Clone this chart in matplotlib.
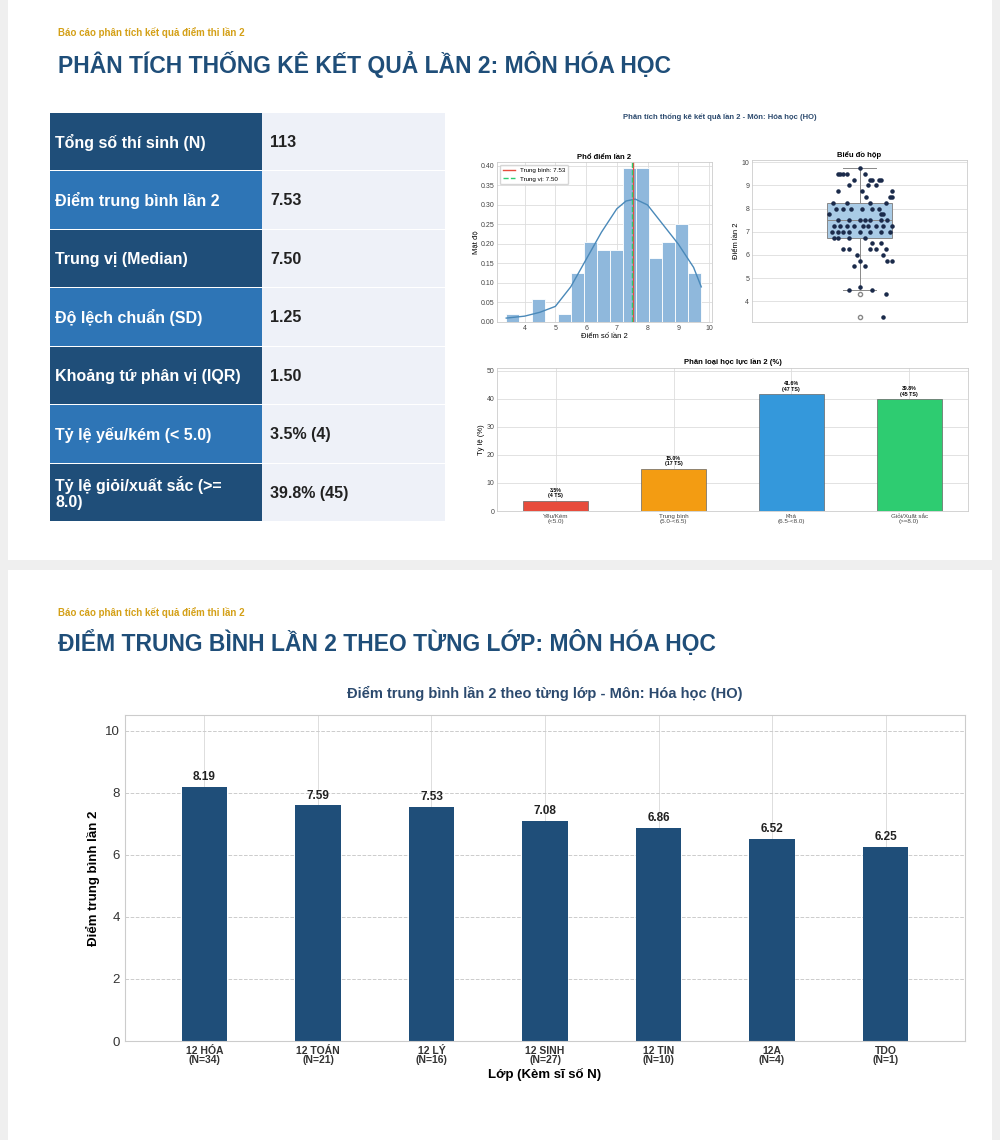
import matplotlib
matplotlib.use('Agg')
import matplotlib.pyplot as plt
from matplotlib.patches import Rectangle
import numpy as np

W, H = 1000, 1140

# ---- dữ liệu ----
bang_nhan = ['Tổng số thí sinh (N)', 'Điểm trung bình lần 2', 'Trung vị (Median)',
             'Độ lệch chuẩn (SD)', 'Khoảng tứ phân vị (IQR)', 'Tỷ lệ yếu/kém (< 5.0)',
             'Tỷ lệ giỏi/xuất sắc (>=\n8.0)']
bang_gia_tri = ['113', '7.53', '7.50', '1.25', '1.50', '3.5% (4)', '39.8% (45)']

hist_bat_dau = 3.4
hist_ket_thuc = 9.75
hist_mat_do = [0.02, 0.0, 0.06, 0.0, 0.02, 0.125, 0.205, 0.185, 0.185, 0.395, 0.395,
               0.165, 0.205, 0.25, 0.125]
kde_x = [3.4, 4.0, 4.5, 5.0, 5.5, 6.0, 6.5, 7.0, 7.3, 7.6, 8.0, 8.5, 9.0, 9.5, 9.75]
kde_y = [0.01, 0.015, 0.025, 0.04, 0.09, 0.16, 0.23, 0.29, 0.31, 0.315, 0.30, 0.25, 0.20, 0.14, 0.09]
trung_binh = 7.53
trung_vi = 7.50

hop_q1, hop_med, hop_q3 = 6.75, 7.5, 8.25
hop_min, hop_max = 4.5, 9.75
hop_ngoai = [4.33, 3.33]
diem_x = [-0.18, -0.15, -0.12, -0.2, -0.05, 0.0, 0.05, 0.2, 0.1, 0.12, 0.15, -0.1, 0.08,
          0.3, 0.28, 0.25, 0.3, -0.25, -0.22, -0.15, -0.08, 0.02, 0.12, 0.18, 0.22, -0.28,
          -0.2, -0.1, 0.0, 0.05, 0.1, 0.2, 0.26, -0.24, -0.18, -0.12, -0.05, 0.03, 0.08,
          0.15, 0.22, 0.3, -0.26, -0.2, -0.15, -0.1, 0.0, 0.1, 0.2, 0.28, -0.2, -0.1,
          0.05, 0.12, 0.2, 0.25, -0.02, 0.0, 0.1, 0.22, 0.26, 0.3, -0.1, 0.05, -0.05,
          -0.15, 0.15, -0.2, 0.02, 0.1, 0.2, -0.24, -0.12, 0.06, 0.18]
diem_y = [9.5, 9.5, 9.5, 9.5, 9.25, 9.75, 9.5, 9.25, 9.25, 9.25, 9.0, 9.0, 9.0,
          8.75, 8.5, 8.25, 8.5, 8.25, 8.0, 8.0, 8.0, 8.0, 8.0, 8.0, 7.75, 7.75,
          7.5, 7.5, 7.5, 7.5, 7.5, 7.5, 7.5, 7.25, 7.25, 7.25, 7.25, 7.25, 7.25,
          7.25, 7.25, 7.25, 7.0, 7.0, 7.0, 7.0, 7.0, 7.0, 7.0, 7.0, 6.75, 6.75,
          6.75, 6.5, 6.5, 6.25, 6.0, 5.75, 6.25, 6.0, 5.75, 5.75, 6.25, 5.5, 5.5,
          6.25, 6.25, 8.75, 8.75, 8.25, 7.75, 6.75, 8.25, 8.5, 9.25]
diem_ngoai_x = [-0.1, 0.0, 0.12, 0.25, 0.22]
diem_ngoai_y = [4.5, 4.6, 4.5, 4.33, 3.33]

hl_nhan = ['Yếu/Kém\n(<5.0)', 'Trung bình\n(5.0-<6.5)', 'Khá\n(6.5-<8.0)', 'Giỏi/Xuất sắc\n(>=8.0)']
hl_ty_le = [3.5, 15.0, 41.6, 39.8]
hl_so_ts = [4, 17, 47, 45]
hl_mau = ['#e74c3c', '#f39c12', '#3498db', '#2ecc71']

lop = ['12 HÓA', '12 TOÁN', '12 LÝ', '12 SINH', '12 TIN', '12A', 'TDO']
si_so = [34, 21, 16, 27, 10, 4, 1]
diem_lop = [8.19, 7.59, 7.53, 7.08, 6.86, 6.52, 6.25]

NAVY = '#1f4e79'
XANH = '#2e75b6'
TIEU_DE = '#1f4e79'
VANG = '#d4a017'

plt.rcParams['font.family'] = ['Liberation Sans', 'DejaVu Sans']


def ax_px(fig, x0, y0, x1, y1):
    return fig.add_axes([x0 / W, 1 - y1 / H, (x1 - x0) / W, (y1 - y0) / H])


def luoi(ax):
    ax.set_facecolor('white')
    ax.grid(True, color='#dddddd', linewidth=0.6)
    ax.set_axisbelow(True)
    for s in ax.spines.values():
        s.set_color('#cccccc')
        s.set_linewidth(0.6)
    ax.tick_params(length=0, labelsize=5, colors='#444444', pad=2)


fig = plt.figure(figsize=(W / 100, H / 100), dpi=100, facecolor='#efefef')

# thẻ nền
fig.patches.append(Rectangle((8 / W, 1 - 560 / H), 984 / W, 560 / H, transform=fig.transFigure,
                             facecolor='white', edgecolor='none', zorder=-5))
fig.patches.append(Rectangle((8 / W, 0), 984 / W, 570 / H, transform=fig.transFigure,
                             facecolor='white', edgecolor='none', zorder=-5))

fig.text(58 / W, 1 - 33 / H, 'Báo cáo phân tích kết quả điểm thi lần 2', color=VANG,
         fontsize=7, fontweight='bold', va='center')
fig.text(58 / W, 1 - 65 / H, 'PHÂN TÍCH THỐNG KÊ KẾT QUẢ LẦN 2: MÔN HÓA HỌC', color=TIEU_DE,
         fontsize=16.5, fontweight='bold', va='center')

# bảng
top, rh = 113, 58.5
for i, (n, v) in enumerate(zip(bang_nhan, bang_gia_tri)):
    y0 = top + i * rh
    mau = NAVY if i % 2 == 0 else XANH
    fig.patches.append(Rectangle((50 / W, 1 - (y0 + rh - 1.5) / H), 212 / W, (rh - 1.5) / H,
                                 transform=fig.transFigure, facecolor=mau, edgecolor='none'))
    fig.patches.append(Rectangle((262 / W, 1 - (y0 + rh - 1.5) / H), 183 / W, (rh - 1.5) / H,
                                 transform=fig.transFigure, facecolor='#eef1f8', edgecolor='none'))
    fig.text(55 / W, 1 - (y0 + rh / 2) / H, n, color='white', fontsize=11.5, fontweight='bold',
             va='center', linespacing=1.1)
    fig.text(270 / W, 1 - (y0 + rh / 2) / H, v, color='#222222', fontsize=11.5, fontweight='bold',
             va='center')

fig.text(720 / W, 1 - 117 / H, 'Phân tích thống kê kết quả lần 2 - Môn: Hóa học (HO)',
         color='#2c4a6e', fontsize=5.5, fontweight='bold', ha='center', va='center')

# histogram
ax = ax_px(fig, 497, 162, 712, 322)
luoi(ax)
canh = np.linspace(hist_bat_dau, hist_ket_thuc, len(hist_mat_do) + 1)
ax.bar(canh[:-1], hist_mat_do, width=np.diff(canh), align='edge', color='#8fb8dc',
       edgecolor='white', linewidth=0.6)
ax.plot(kde_x, kde_y, color='#4a89b9', linewidth=1)
ax.axvline(trung_binh, color='#e74c3c', linewidth=1, label=f'Trung bình: {trung_binh:.2f}')
ax.axvline(trung_vi, color='#2ecc71', linewidth=1, linestyle='--', label=f'Trung vị: {trung_vi:.2f}')
ax.set_xlim(3.1, 10.1)
ax.set_ylim(0, 0.41)
ax.set_xticks([4, 5, 6, 7, 8, 9, 10])
ax.set_yticks(np.arange(0, 0.41, 0.05))
ax.set_yticklabels([f'{t:.2f}' for t in np.arange(0, 0.41, 0.05)])
ax.set_title('Phổ điểm lần 2', fontsize=5.5, fontweight='bold', pad=2)
ax.set_xlabel('Điểm số lần 2', fontsize=5.5, labelpad=1)
ax.set_ylabel('Mật độ', fontsize=5.5, labelpad=1)
ax.legend(fontsize=4.5, loc='upper left', frameon=True, handlelength=2)

# box plot
ax = ax_px(fig, 752, 160, 967, 322)
luoi(ax)
ax.grid(axis='x', visible=False)
ax.bxp([{'q1': hop_q1, 'med': hop_med, 'q3': hop_q3, 'whislo': hop_min, 'whishi': hop_max,
         'fliers': hop_ngoai}], positions=[0], widths=0.6, patch_artist=True,
       boxprops=dict(facecolor='#a9cbe6', edgecolor='#888888', linewidth=0.7),
       medianprops=dict(color='#888888', linewidth=0.7),
       whiskerprops=dict(color='#888888', linewidth=0.7),
       capprops=dict(color='#888888', linewidth=0.7),
       flierprops=dict(marker='o', markerfacecolor='white', markeredgecolor='#888888', markersize=3))
ax.scatter(diem_x, diem_y, s=5, color='#1a2a4a', zorder=3)
ax.scatter(diem_ngoai_x, diem_ngoai_y, s=5, color='#1a2a4a', zorder=3)
ax.set_xlim(-1, 1)
ax.set_ylim(3.1, 10.1)
ax.set_xticks([])
ax.set_yticks([4, 5, 6, 7, 8, 9, 10])
ax.set_title('Biểu đồ hộp', fontsize=5.5, fontweight='bold', pad=2)
ax.set_ylabel('Điểm lần 2', fontsize=5.5, labelpad=1)

# học lực
ax = ax_px(fig, 497, 368, 968, 511)
luoi(ax)
xs = np.arange(len(hl_nhan))
ax.bar(xs, hl_ty_le, width=0.55, color=hl_mau, edgecolor='#666666', linewidth=0.5)
for x, p, n in zip(xs, hl_ty_le, hl_so_ts):
    ax.text(x, p + 1, f'{p:.1f}%\n({n} TS)', ha='center', va='bottom', fontsize=3.8,
            fontweight='bold', linespacing=1.1)
ax.set_xticks(xs)
ax.set_xticklabels(hl_nhan, fontsize=4.5, linespacing=1.1)
ax.set_xlim(-0.5, 3.5)
ax.set_ylim(0, 51)
ax.set_yticks([0, 10, 20, 30, 40, 50])
ax.set_title('Phân loại học lực lần 2 (%)', fontsize=5.5, fontweight='bold', pad=3)
ax.set_ylabel('Tỷ lệ (%)', fontsize=5.5, labelpad=1)

# ---- phần dưới ----
fig.text(58 / W, 1 - 612 / H, 'Báo cáo phân tích kết quả điểm thi lần 2', color=VANG,
         fontsize=7, fontweight='bold', va='center')
fig.text(58 / W, 1 - 643 / H, 'ĐIỂM TRUNG BÌNH LẦN 2 THEO TỪNG LỚP: MÔN HÓA HỌC', color=TIEU_DE,
         fontsize=16.5, fontweight='bold', va='center')

ax = ax_px(fig, 125, 715, 965, 1041)
ax.set_facecolor('white')
ax.grid(axis='y', color='#cccccc', linestyle='--', linewidth=0.7)
ax.grid(axis='x', color='#dddddd', linewidth=0.7)
ax.set_axisbelow(True)
for s in ax.spines.values():
    s.set_color('#cccccc')
xs = np.arange(len(lop))
ax.bar(xs, diem_lop, width=0.4, color=NAVY)
for x, v in zip(xs, diem_lop):
    ax.text(x, v + 0.12, f'{v:.2f}', ha='center', va='bottom', fontsize=8.5, fontweight='bold',
            color='#222222')
ax.set_xticks(xs)
ax.set_xticklabels([f'{l}\n(N={n})' for l, n in zip(lop, si_so)], fontsize=7.5,
                   fontweight='bold', linespacing=0.95)
ax.set_xlim(-0.7, 6.7)
ax.set_ylim(0, 10.5)
ax.set_yticks([0, 2, 4, 6, 8, 10])
ax.tick_params(length=0, labelsize=9.5, colors='#333333')
for t in ax.get_xticklabels():
    t.set_fontsize(7.5)
ax.set_title('Điểm trung bình lần 2 theo từng lớp - Môn: Hóa học (HO)', fontsize=10.5,
             fontweight='bold', color='#2c4a6e', pad=12)
ax.set_xlabel('Lớp (Kèm sĩ số N)', fontsize=9.5, fontweight='bold', labelpad=2)
ax.set_ylabel('Điểm trung bình lần 2', fontsize=9.5, fontweight='bold')

fig.savefig('out.png', dpi=100, facecolor=fig.get_facecolor())
